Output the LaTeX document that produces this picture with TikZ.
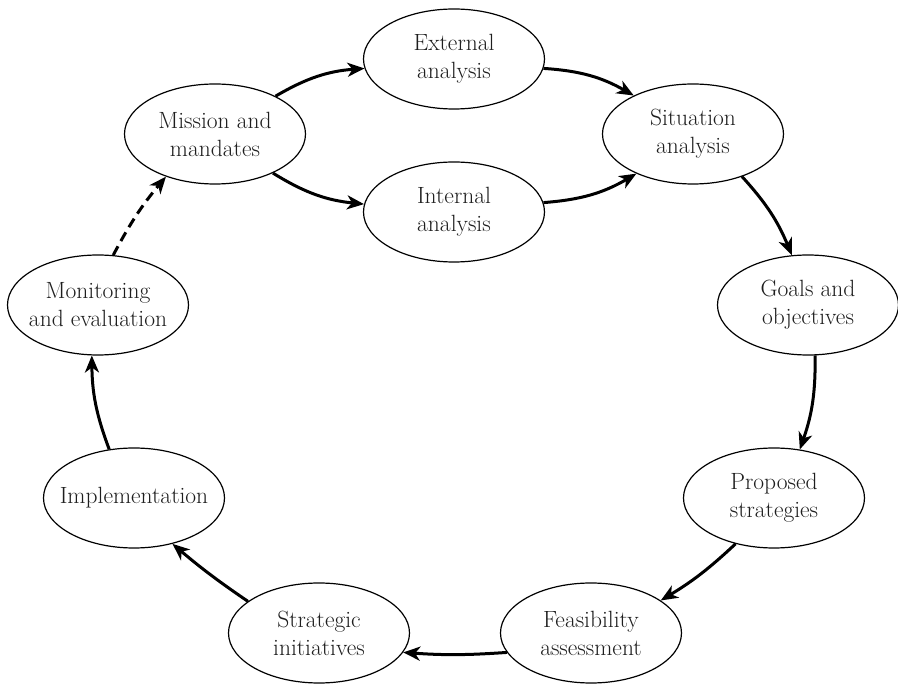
\documentclass[tikz,border=0pt]{standalone}
\usetikzlibrary{shapes.geometric,arrows.meta}
\definecolor{inkgray}{HTML}{1E1E1E}
\begin{document}
\begin{tikzpicture}[x=1pt,y=-1pt,
  stage/.style={draw=black, line width=1.2pt, ellipse, minimum width=181pt,
    minimum height=100pt, inner xsep=-30pt, inner ysep=0pt, align=center,
    text=inkgray, font=\fontsize{23.5}{28}\selectfont},
  flow/.style={line width=3pt, -{Stealth[length=17pt,width=14pt,inset=5pt]}},
  loopback/.style={flow, dash pattern=on 10pt off 6pt}]
\useasboundingbox (0,0) rectangle (898,684);

% stages of the planning cycle
\node[stage] (mis)  at (215,134) {Mission and\\mandates};
\node[stage] (ext)  at (454,59)  {External\\analysis};
\node[stage] (int)  at (454,212) {Internal\\analysis};
\node[stage] (sit)  at (693,134) {Situation\\analysis};
\node[stage] (goal) at (808,305) {Goals and\\objectives};
\node[stage] (mon)  at (98,305)  {Monitoring\\and evaluation};
\node[stage] (prop) at (774,498) {Proposed\\strategies};
\node[stage] (impl) at (134,498) {Implementation};
\node[stage] (feas) at (591,633) {Feasibility\\assessment};
\node[stage] (strat) at (319,633) {Strategic\\initiatives};

% connectors
\draw[flow] (mis.32)   to[bend left=13]  (ext.186);
\draw[flow] (mis.-34)  to[bend right=13] (int.175);
\draw[flow] (ext.-6)   to[bend left=13]  (sit.147);
\draw[flow] (int.6)    to[bend right=13] (sit.215);
\draw[flow] (sit.-41)  to[bend left=10]  (goal.108);
\draw[flow] (goal.-82) to[bend left=10]  (prop.62);
\draw[flow] (prop.230) to[bend left=6]   (feas.25);
\draw[flow] (feas.193) to[bend left=4]   (strat.-13);
\draw[flow] (strat.156) to[bend left=3]  (impl.-50);
\draw[flow] (impl.117) to[bend left=10]  (mon.-97);
\draw[loopback] (mon.73) to[bend left=6] (mis.221);
\end{tikzpicture}
\end{document}
